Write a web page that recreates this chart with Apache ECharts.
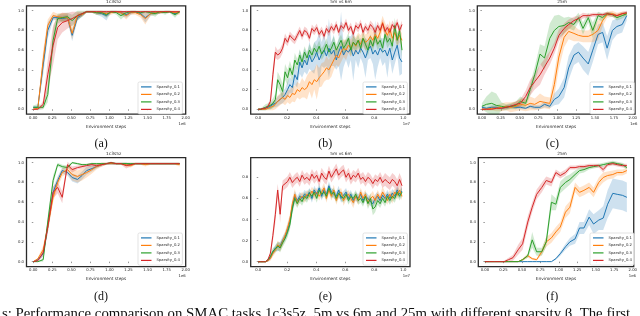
<!DOCTYPE html>
<html><head><meta charset="utf-8">
<script src="https://cdn.jsdelivr.net/npm/echarts@6/dist/echarts.min.js"></script>
<style>html,body{margin:0;padding:0;background:#fff}#c{width:640px;height:316px}</style>
</head><body><div id="c"></div>
<script>
// ---------- shared ----------
const names = ['Sparsity_0.1','Sparsity_0.2','Sparsity_0.3','Sparsity_0.4'];
const colors = ['#1f77b4','#ff7f0e','#2ca02c','#d62728'];
const ticks2 = [0,0.25,0.5,0.75,1.0,1.25,1.5,1.75,2.0];
const ticks1 = [0,0.2,0.4,0.6,0.8,1.0];
const yTicks = [0,0.2,0.4,0.6,0.8,1.0];
const yTicksE = [0,0.2,0.4,0.6,0.8];
const stepsShort = [0.00,0.06,0.13,0.19,0.26,0.32,0.38,0.45,0.51,0.58,0.64,0.70,0.77,0.83,0.90,0.96,1.02,1.09,1.15,1.22,1.28,1.34,1.41,1.47,1.54,1.60,1.66,1.73,1.79,1.86,1.92];
const stepsLong = [0,0.017,0.034,0.05,0.067,0.084,0.101,0.118,0.134,0.151,0.168,0.185,0.202,0.218,0.235,0.252,0.269,0.286,0.302,0.319,0.336,0.353,0.37,0.386,0.403,0.42,0.437,0.454,0.47,0.487,0.504,0.521,0.538,0.554,0.571,0.588,0.605,0.622,0.638,0.655,0.672,0.689,0.706,0.722,0.739,0.756,0.773,0.79,0.806,0.823,0.84,0.857,0.874,0.89,0.907,0.924,0.941,0.958,0.974,0.991];

// ---------- (a) 1c3s5z ----------
const a_s1 = [0.02,0.02,0.45,0.80,0.93,0.93,0.92,0.93,0.75,0.93,0.96,0.99,0.99,0.98,0.97,0.95,0.99,0.99,0.98,0.96,0.98,0.99,0.97,0.93,0.97,0.98,0.98,0.99,0.99,0.97,0.99];
const a_s2 = [0.00,0.01,0.50,0.85,0.95,0.94,0.93,0.93,0.77,0.95,0.96,0.99,0.99,0.98,0.98,0.97,0.98,0.99,0.98,0.95,0.98,0.98,0.96,0.92,0.97,0.98,0.98,0.99,0.99,0.98,0.98];
const a_s3 = [0.02,0.02,0.02,0.15,0.70,0.92,0.93,0.94,0.90,0.95,0.97,0.99,0.99,0.98,0.98,0.96,0.99,0.98,0.95,0.98,0.99,0.99,0.98,0.99,0.98,0.97,0.99,0.98,0.99,0.96,0.99];
const a_s4 = [0.00,0.00,0.05,0.35,0.65,0.83,0.88,0.90,0.92,0.95,0.97,0.99,0.99,0.99,0.99,0.99,0.99,0.99,0.99,0.99,0.99,0.99,0.99,0.99,0.99,0.99,0.99,0.99,0.99,0.99,0.99];
const a_e1 = [0.01,0.01,0.10,0.08,0.03,0.02,0.03,0.03,0.06,0.03,0.02,0.01,0.01,0.02,0.03,0.05,0.01,0.01,0.02,0.03,0.02,0.01,0.02,0.05,0.02,0.02,0.01,0.01,0.01,0.02,0.01];
const a_e2 = [0.01,0.01,0.10,0.06,0.04,0.03,0.05,0.04,0.06,0.03,0.02,0.01,0.01,0.02,0.02,0.03,0.02,0.01,0.02,0.04,0.02,0.02,0.03,0.06,0.02,0.02,0.01,0.01,0.01,0.02,0.02];
const a_e3 = [0.02,0.03,0.02,0.08,0.12,0.05,0.04,0.04,0.06,0.05,0.03,0.01,0.01,0.02,0.02,0.03,0.01,0.02,0.04,0.02,0.01,0.01,0.02,0.01,0.02,0.03,0.01,0.02,0.01,0.03,0.01];
const a_e4 = [0.00,0.00,0.04,0.15,0.20,0.12,0.10,0.08,0.07,0.04,0.02,0.01,0.01,0.01,0.01,0.01,0.01,0.01,0.01,0.01,0.01,0.01,0.01,0.01,0.01,0.01,0.01,0.01,0.01,0.01,0.01];

// ---------- (b) 5m vs 6m ----------
const b_s1 = [0.00,0.00,0.00,0.01,0.02,0.03,0.05,0.06,0.08,0.10,0.12,0.15,0.20,0.25,0.22,0.35,0.30,0.48,0.42,0.50,0.45,0.55,0.48,0.52,0.58,0.50,0.56,0.60,0.54,0.62,0.56,0.60,0.50,0.58,0.64,0.55,0.60,0.58,0.62,0.54,0.60,0.56,0.62,0.58,0.52,0.60,0.64,0.56,0.60,0.55,0.62,0.58,0.60,0.54,0.62,0.50,0.58,0.65,0.52,0.48];
const b_s2 = [0.00,0.00,0.00,0.00,0.01,0.02,0.03,0.05,0.08,0.10,0.12,0.10,0.14,0.12,0.16,0.15,0.20,0.18,0.22,0.20,0.22,0.28,0.25,0.30,0.28,0.32,0.35,0.38,0.42,0.40,0.45,0.50,0.55,0.52,0.58,0.62,0.60,0.65,0.62,0.68,0.64,0.70,0.66,0.72,0.68,0.70,0.74,0.70,0.76,0.72,0.78,0.88,0.80,0.75,0.82,0.72,0.78,0.70,0.75,0.70];
const b_s3 = [0.00,0.00,0.01,0.02,0.03,0.04,0.06,0.10,0.30,0.25,0.18,0.38,0.32,0.42,0.35,0.50,0.45,0.55,0.48,0.58,0.52,0.60,0.55,0.62,0.58,0.64,0.56,0.60,0.66,0.58,0.62,0.68,0.60,0.65,0.70,0.62,0.66,0.72,0.60,0.68,0.65,0.70,0.62,0.72,0.66,0.60,0.70,0.64,0.74,0.66,0.70,0.62,0.76,0.68,0.72,0.64,0.85,0.70,0.80,0.60];
const b_s4 = [0.00,0.00,0.01,0.01,0.03,0.08,0.35,0.58,0.55,0.57,0.62,0.72,0.68,0.75,0.72,0.70,0.75,0.80,0.74,0.80,0.78,0.72,0.82,0.79,0.83,0.76,0.80,0.74,0.82,0.78,0.84,0.80,0.86,0.78,0.85,0.82,0.88,0.80,0.84,0.76,0.85,0.82,0.87,0.78,0.84,0.80,0.86,0.83,0.78,0.85,0.80,0.87,0.79,0.83,0.78,0.86,0.82,0.88,0.80,0.86];
const b_e1 = [0.01,0.01,0.01,0.02,0.02,0.03,0.03,0.04,0.05,0.05,0.06,0.06,0.08,0.08,0.07,0.10,0.08,0.12,0.10,0.12,0.10,0.14,0.10,0.16,0.12,0.28,0.12,0.18,0.10,0.30,0.12,0.16,0.10,0.14,0.35,0.12,0.10,0.16,0.12,0.25,0.10,0.14,0.10,0.12,0.20,0.10,0.12,0.10,0.30,0.12,0.10,0.14,0.12,0.22,0.10,0.14,0.12,0.10,0.18,0.12];
const b_e2 = [0.01,0.01,0.01,0.01,0.02,0.03,0.04,0.05,0.06,0.06,0.06,0.06,0.07,0.07,0.08,0.08,0.08,0.08,0.10,0.08,0.12,0.10,0.14,0.10,0.18,0.10,0.12,0.10,0.12,0.10,0.12,0.10,0.10,0.09,0.10,0.09,0.10,0.08,0.09,0.08,0.09,0.08,0.09,0.08,0.08,0.08,0.09,0.08,0.08,0.08,0.08,0.07,0.08,0.07,0.08,0.07,0.07,0.07,0.07,0.07];
const b_e3 = [0.01,0.01,0.02,0.03,0.03,0.04,0.05,0.06,0.08,0.08,0.08,0.08,0.08,0.07,0.07,0.07,0.06,0.06,0.06,0.06,0.06,0.06,0.06,0.06,0.06,0.06,0.06,0.06,0.06,0.06,0.06,0.06,0.06,0.06,0.06,0.06,0.06,0.06,0.06,0.06,0.06,0.06,0.06,0.06,0.06,0.06,0.06,0.06,0.06,0.06,0.06,0.06,0.06,0.06,0.06,0.06,0.08,0.07,0.07,0.07];
const b_e4 = [0.00,0.00,0.01,0.01,0.02,0.04,0.08,0.06,0.05,0.05,0.05,0.05,0.04,0.04,0.04,0.04,0.04,0.04,0.04,0.04,0.04,0.04,0.04,0.04,0.04,0.04,0.04,0.04,0.04,0.04,0.04,0.04,0.04,0.04,0.04,0.04,0.04,0.04,0.04,0.04,0.04,0.04,0.04,0.04,0.04,0.04,0.04,0.04,0.04,0.04,0.04,0.04,0.04,0.04,0.04,0.04,0.04,0.04,0.04,0.04];

// ---------- (c) 25m ----------
const c_s1 = [0.02,0.01,0.02,0.02,0.01,0.02,0.03,0.02,0.02,0.01,0.03,0.02,0.02,0.05,0.03,0.10,0.13,0.22,0.42,0.55,0.58,0.52,0.46,0.60,0.76,0.78,0.62,0.80,0.84,0.86,0.95];
const c_s2 = [0.00,0.00,0.01,0.01,0.02,0.03,0.02,0.03,0.05,0.04,0.06,0.05,0.08,0.07,0.06,0.25,0.53,0.73,0.79,0.77,0.75,0.74,0.74,0.76,0.80,0.90,0.96,0.97,0.95,0.97,0.97];
const c_s3 = [0.03,0.05,0.06,0.04,0.03,0.02,0.03,0.04,0.08,0.06,0.20,0.35,0.56,0.52,0.72,0.80,0.84,0.85,0.88,0.86,0.93,0.82,0.93,0.80,0.95,0.93,0.97,0.96,0.93,0.95,0.97];
const c_s4 = [0.00,0.00,0.00,0.01,0.01,0.02,0.03,0.05,0.06,0.13,0.22,0.28,0.35,0.43,0.52,0.62,0.75,0.82,0.86,0.90,0.92,0.95,0.95,0.96,0.96,0.96,0.97,0.96,0.95,0.97,0.98];
const c_e1 = [0.02,0.01,0.02,0.02,0.01,0.02,0.02,0.02,0.02,0.01,0.02,0.02,0.02,0.03,0.02,0.06,0.08,0.10,0.12,0.10,0.10,0.12,0.12,0.12,0.10,0.10,0.12,0.10,0.08,0.08,0.05];
const c_e2 = [0.01,0.01,0.02,0.03,0.04,0.04,0.05,0.05,0.06,0.06,0.07,0.06,0.08,0.06,0.06,0.12,0.12,0.10,0.08,0.08,0.06,0.06,0.06,0.08,0.10,0.06,0.03,0.03,0.03,0.02,0.02];
const c_e3 = [0.03,0.08,0.12,0.12,0.04,0.03,0.03,0.04,0.05,0.04,0.06,0.08,0.10,0.12,0.15,0.15,0.12,0.08,0.06,0.06,0.05,0.06,0.05,0.08,0.04,0.04,0.02,0.02,0.03,0.03,0.02];
const c_e4 = [0.01,0.01,0.01,0.01,0.01,0.02,0.02,0.03,0.04,0.06,0.08,0.08,0.10,0.08,0.07,0.06,0.06,0.05,0.05,0.04,0.03,0.03,0.02,0.02,0.02,0.02,0.02,0.02,0.02,0.02,0.02];

// ---------- (d) 1c3s5z ----------
const d_s1 = [0.00,0.02,0.08,0.35,0.70,0.82,0.92,0.90,0.85,0.83,0.87,0.92,0.94,0.96,0.98,0.99,0.99,0.99,0.99,0.99,0.98,0.99,0.99,0.99,0.99,0.99,0.99,0.99,0.99,0.99,0.99];
const d_s2 = [0.00,0.03,0.12,0.35,0.65,0.80,0.90,0.93,0.88,0.86,0.88,0.90,0.93,0.96,0.98,0.99,0.99,0.99,0.99,0.98,0.97,0.99,0.99,0.98,0.99,0.99,0.99,0.99,0.99,0.99,0.98];
const d_s3 = [0.00,0.00,0.02,0.40,0.82,0.98,0.96,0.95,1.00,0.99,0.98,0.98,0.99,0.99,0.99,0.99,1.00,0.99,0.99,0.99,0.99,0.99,0.99,0.99,0.99,0.99,0.99,0.99,0.99,0.99,0.99];
const d_s4 = [0.00,0.01,0.09,0.35,0.70,0.75,0.65,0.98,0.93,0.95,0.96,0.97,0.98,0.97,0.98,0.99,1.00,0.99,0.99,0.97,0.98,0.99,0.99,0.99,0.99,0.99,0.99,0.99,0.99,0.99,0.99];
const d_e1 = [0.00,0.01,0.03,0.06,0.05,0.04,0.03,0.03,0.04,0.04,0.04,0.04,0.03,0.02,0.01,0.01,0.01,0.01,0.01,0.01,0.01,0.01,0.01,0.01,0.01,0.01,0.01,0.01,0.01,0.01,0.01];
const d_e2 = [0.00,0.01,0.04,0.06,0.05,0.05,0.04,0.04,0.06,0.06,0.06,0.05,0.04,0.03,0.02,0.01,0.01,0.01,0.01,0.02,0.02,0.01,0.01,0.02,0.01,0.01,0.01,0.01,0.01,0.01,0.02];
const d_e3 = [0.00,0.00,0.02,0.06,0.05,0.02,0.02,0.02,0.01,0.01,0.01,0.01,0.01,0.01,0.01,0.01,0.01,0.01,0.01,0.01,0.01,0.01,0.01,0.01,0.01,0.01,0.01,0.01,0.01,0.01,0.01];
const d_e4 = [0.00,0.01,0.03,0.06,0.06,0.06,0.06,0.03,0.03,0.02,0.02,0.02,0.02,0.02,0.02,0.01,0.01,0.01,0.01,0.03,0.02,0.01,0.01,0.01,0.01,0.01,0.01,0.01,0.01,0.01,0.01];

// ---------- (e) 5m vs 6m ----------
const e_s1 = [0.00,0.00,0.00,0.00,0.01,0.04,0.09,0.13,0.14,0.15,0.20,0.24,0.30,0.38,0.52,0.62,0.58,0.62,0.60,0.64,0.62,0.66,0.60,0.68,0.64,0.70,0.62,0.68,0.64,0.72,0.66,0.64,0.62,0.68,0.60,0.63,0.66,0.60,0.64,0.58,0.62,0.60,0.64,0.58,0.62,0.60,0.57,0.55,0.60,0.62,0.58,0.63,0.60,0.64,0.60,0.65,0.62,0.68,0.64,0.67];
const e_s2 = [0.00,0.00,0.00,0.00,0.01,0.03,0.08,0.11,0.16,0.14,0.19,0.25,0.32,0.40,0.55,0.64,0.56,0.60,0.62,0.60,0.64,0.62,0.67,0.63,0.66,0.62,0.66,0.70,0.60,0.68,0.62,0.68,0.58,0.64,0.66,0.58,0.62,0.64,0.60,0.56,0.62,0.58,0.66,0.60,0.64,0.56,0.60,0.62,0.58,0.64,0.60,0.66,0.62,0.58,0.64,0.60,0.66,0.63,0.68,0.62];
const e_s3 = [0.00,0.00,0.00,0.00,0.02,0.05,0.10,0.12,0.15,0.13,0.18,0.22,0.28,0.35,0.50,0.60,0.55,0.60,0.57,0.62,0.60,0.65,0.62,0.66,0.60,0.68,0.64,0.66,0.62,0.70,0.64,0.66,0.60,0.65,0.62,0.60,0.64,0.58,0.62,0.60,0.64,0.58,0.60,0.56,0.62,0.55,0.60,0.50,0.52,0.58,0.55,0.60,0.56,0.62,0.58,0.62,0.60,0.66,0.62,0.66];
const e_s4 = [0.00,0.00,0.00,0.00,0.02,0.08,0.25,0.45,0.68,0.45,0.72,0.74,0.76,0.80,0.75,0.78,0.80,0.76,0.82,0.78,0.80,0.77,0.83,0.79,0.82,0.76,0.84,0.80,0.78,0.86,0.80,0.84,0.88,0.82,0.85,0.87,0.80,0.84,0.78,0.82,0.80,0.84,0.78,0.80,0.76,0.80,0.78,0.74,0.78,0.76,0.80,0.75,0.78,0.76,0.74,0.78,0.76,0.72,0.78,0.72];
const e_e1 = [0.00,0.00,0.00,0.00,0.01,0.02,0.03,0.03,0.04,0.04,0.04,0.04,0.05,0.05,0.05,0.05,0.04,0.04,0.04,0.04,0.04,0.04,0.04,0.04,0.04,0.04,0.04,0.04,0.04,0.04,0.04,0.04,0.04,0.04,0.04,0.04,0.04,0.04,0.04,0.04,0.04,0.04,0.04,0.04,0.04,0.04,0.04,0.04,0.04,0.04,0.04,0.04,0.04,0.04,0.04,0.04,0.04,0.04,0.04,0.04];
const e_e2 = [0.00,0.00,0.00,0.00,0.01,0.02,0.03,0.03,0.04,0.04,0.04,0.04,0.05,0.05,0.05,0.05,0.04,0.04,0.04,0.04,0.04,0.04,0.04,0.05,0.04,0.04,0.04,0.05,0.04,0.04,0.04,0.05,0.04,0.04,0.04,0.05,0.04,0.04,0.04,0.05,0.04,0.04,0.04,0.05,0.04,0.04,0.04,0.05,0.04,0.04,0.04,0.05,0.04,0.04,0.04,0.05,0.04,0.04,0.04,0.04];
const e_e3 = [0.00,0.00,0.00,0.00,0.01,0.02,0.03,0.03,0.04,0.04,0.04,0.04,0.05,0.05,0.05,0.05,0.04,0.04,0.04,0.04,0.04,0.04,0.04,0.04,0.04,0.04,0.04,0.04,0.04,0.04,0.04,0.04,0.04,0.04,0.04,0.04,0.04,0.04,0.04,0.04,0.04,0.04,0.04,0.04,0.04,0.05,0.05,0.06,0.05,0.04,0.04,0.04,0.04,0.04,0.04,0.04,0.04,0.04,0.04,0.04];
const e_e4 = [0.00,0.00,0.00,0.00,0.01,0.03,0.06,0.08,0.06,0.08,0.05,0.05,0.05,0.05,0.05,0.05,0.05,0.05,0.05,0.05,0.05,0.05,0.05,0.05,0.05,0.05,0.05,0.05,0.05,0.05,0.05,0.05,0.05,0.05,0.05,0.05,0.05,0.05,0.05,0.05,0.05,0.05,0.05,0.05,0.05,0.05,0.05,0.05,0.05,0.05,0.05,0.05,0.06,0.06,0.06,0.06,0.06,0.06,0.06,0.06];

// ---------- (f) 25m ----------
const f_s1 = [0,0,0,0,0,0,0,0,0,0,0,0,0,0,0.00,0.03,0.08,0.15,0.20,0.23,0.34,0.34,0.45,0.38,0.42,0.44,0.58,0.69,0.68,0.67,0.65];
const f_s2 = [0,0,0,0,0,0,0,0,0.02,0.06,0.03,0.02,0.10,0.20,0.24,0.30,0.35,0.50,0.55,0.75,0.70,0.72,0.75,0.70,0.80,0.85,0.87,0.88,0.90,0.90,0.92];
const f_s3 = [0,0,0,0,0,0,0,0,0.02,0.06,0.22,0.10,0.10,0.20,0.60,0.58,0.75,0.80,0.83,0.88,0.92,0.93,0.95,0.96,0.97,0.98,0.99,1.00,0.99,0.98,0.95];
const f_s4 = [0,0,0,0,0.00,0.02,0.04,0.12,0.18,0.40,0.55,0.68,0.75,0.82,0.80,0.90,0.87,0.90,0.95,0.95,0.96,0.96,0.97,0.97,0.97,0.93,0.98,0.99,0.98,0.97,0.97];
const f_e1 = [0,0,0,0,0,0,0,0,0,0,0,0,0,0,0.00,0.01,0.02,0.03,0.04,0.05,0.06,0.06,0.08,0.10,0.10,0.12,0.14,0.15,0.15,0.15,0.15];
const f_e2 = [0,0,0,0,0,0,0,0,0.01,0.02,0.01,0.01,0.03,0.05,0.05,0.05,0.05,0.06,0.06,0.05,0.05,0.05,0.05,0.05,0.05,0.05,0.04,0.04,0.03,0.03,0.03];
const f_e3 = [0,0,0,0,0,0,0,0,0.01,0.02,0.08,0.04,0.04,0.05,0.08,0.06,0.06,0.06,0.05,0.04,0.03,0.03,0.02,0.02,0.02,0.02,0.02,0.02,0.02,0.02,0.02];
const f_e4 = [0,0,0,0,0.01,0.02,0.03,0.05,0.06,0.06,0.05,0.05,0.05,0.04,0.04,0.03,0.03,0.03,0.02,0.02,0.02,0.02,0.02,0.02,0.02,0.03,0.02,0.02,0.02,0.02,0.02];

// ---------- panels ----------
const panels = [
  {title:'1c3s5z', xs:stepsShort, m:[a_s1,a_s2,a_s3,a_s4], e:[a_e1,a_e2,a_e3,a_e4], g:{left:26.5,top:5.8,width:159.2,height:108.4}, xmin:-0.089, xmax:2.0, xt:ticks2, dec:2, ymin:-0.05, ymax:1.05, yt:yTicks, exp:'1e6', lab:'(a)', lg:[138,82]},
  {title:'5m vs 6m', xs:stepsLong, m:[b_s1,b_s2,b_s3,b_s4], e:[b_e1,b_e2,b_e3,b_e4], g:{left:250.7,top:5.8,width:159.3,height:108.4}, xmin:-0.052, xmax:1.046, xt:ticks1, dec:1, ymin:-0.05, ymax:1.05, yt:yTicks, exp:'1e7', lab:'(b)', lg:[363,82]},
  {title:'25m', xs:stepsShort, m:[c_s1,c_s2,c_s3,c_s4], e:[c_e1,c_e2,c_e3,c_e4], g:{left:477.3,top:5.8,width:160,height:108.4}, xmin:-0.061, xmax:2.03, xt:ticks2, dec:2, ymin:-0.05, ymax:1.05, yt:yTicks, exp:'1e6', lab:'(c)', lg:[590,82]},
  {title:'1c3s5z', xs:stepsShort, m:[d_s1,d_s2,d_s3,d_s4], e:[d_e1,d_e2,d_e3,d_e4], g:{left:26.5,top:157.7,width:159.2,height:108.9}, xmin:-0.089, xmax:2.0, xt:ticks2, dec:2, ymin:-0.05, ymax:1.05, yt:yTicks, exp:'1e6', lab:'(d)', lg:[138,233]},
  {title:'5m vs 6m', xs:stepsLong, m:[e_s1,e_s2,e_s3,e_s4], e:[e_e1,e_e2,e_e3,e_e4], g:{left:250.7,top:157.7,width:159.3,height:108.9}, xmin:-0.052, xmax:1.046, xt:ticks1, dec:1, ymin:-0.046, ymax:0.986, yt:yTicksE, exp:'1e7', lab:'(e)', lg:[363,233]},
  {title:'25m', xs:stepsShort, m:[f_s1,f_s2,f_s3,f_s4], e:[f_e1,f_e2,f_e3,f_e4], g:{left:478.3,top:157.7,width:157.7,height:108.9}, xmin:-0.089, xmax:2.013, xt:ticks2, dec:2, ymin:-0.05, ymax:1.05, yt:yTicks, exp:'1e6', lab:'(f)', lg:[590,233]}
];

const TXT = '#262626';
const FONT = 'DejaVu Sans';
const option = {animation:false, backgroundColor:'#fff', grid:[], xAxis:[], yAxis:[], series:[], legend:[], graphic:[]};

panels.forEach((p, gi) => {
  option.grid.push({left:p.g.left, top:p.g.top, width:p.g.width, height:p.g.height, show:true, borderColor:'#2a2a2a', borderWidth:1.3, backgroundColor:'#fff', containLabel:false});
  option.xAxis.push({type:'value', gridIndex:gi, min:p.xmin, max:p.xmax, splitLine:{show:false},
    axisLine:{show:false}, axisTick:{show:true, customValues:p.xt, length:1.5, lineStyle:{color:'#333', width:0.5}},
    axisLabel:{customValues:p.xt, formatter:v=>v.toFixed(p.dec), fontSize:3.8, color:TXT, fontFamily:FONT, margin:1.8},
    name:'Environment steps', nameLocation:'middle', nameGap:10.5, nameTextStyle:{fontSize:4.3, color:TXT, fontFamily:FONT}});
  option.yAxis.push({type:'value', gridIndex:gi, min:p.ymin, max:p.ymax, splitLine:{show:false},
    axisLine:{show:false}, axisTick:{show:true, customValues:p.yt, length:1.5, lineStyle:{color:'#333', width:0.5}},
    axisLabel:{customValues:p.yt, formatter:v=>v.toFixed(1), fontSize:3.8, color:TXT, fontFamily:FONT, margin:2.5}});
  // bands
  for (let k=0;k<4;k++){
    const xs=p.xs, mean=p.m[k], sp=p.e[k];
    const n=Math.min(xs.length, mean.length, sp.length);
    option.series.push({type:'custom', name:'band'+gi+k, xAxisIndex:gi, yAxisIndex:gi, silent:true, clip:true, z:1,
      data:[[xs[0], mean[0]]],
      renderItem:function(params, api){
        const pts=[];
        for(let i=0;i<n;i++) pts.push(api.coord([xs[i], mean[i]+sp[i]]));
        for(let i=n-1;i>=0;i--) pts.push(api.coord([xs[i], mean[i]-sp[i]]));
        return {type:'polygon', shape:{points:pts}, style:{fill:colors[k], opacity:0.22, stroke:null}};
      }});
  }
  for (let k=0;k<4;k++){
    const xs=p.xs, mean=p.m[k];
    const n=Math.min(xs.length, mean.length);
    const data=[]; for(let i=0;i<n;i++) data.push([xs[i], mean[i]]);
    option.series.push({type:'line', name:names[k], xAxisIndex:gi, yAxisIndex:gi, data, showSymbol:false, symbol:'none',
      lineStyle:{width:1, color:colors[k]}, itemStyle:{color:colors[k]}, z:3, clip:true});
  }
  option.legend.push({left:p.lg[0], top:p.lg[1], orient:'vertical', data:names.map(n=>({name:n, icon:'rect'})),
    itemWidth:10.5, itemHeight:1.2, itemGap:2.1, itemTextGap:3, padding:[2.2,2.5,2,3],
    backgroundColor:'rgba(255,255,255,0.85)', borderColor:'#d0d0d0', borderWidth:0.6, borderRadius:1.5,
    textStyle:{fontSize:3.8, color:TXT, fontFamily:FONT, lineHeight:5.4}, selectedMode:false});
  const cx = p.g.left + p.g.width/2;
  option.graphic.push({type:'text', left:cx, top:p.g.top-5.6, style:{text:p.title, font:'4.3px "DejaVu Sans"', fill:TXT, textAlign:'center'}});
  option.graphic.push({type:'text', x:p.g.left+p.g.width, y:p.g.top+p.g.height+9.5, style:{text:p.exp, font:'3.8px "DejaVu Sans"', fill:TXT, textAlign:'right', textVerticalAlign:'middle'}});
  option.graphic.push({type:'text', x:cx-5, y:p.g.top+p.g.height+30, style:{text:p.lab, font:'12px "Liberation Serif"', fill:'#111', textAlign:'center', textVerticalAlign:'middle'}});
});

option.graphic.push({type:'text', x:2, y:306.5, style:{text:'s: Performance comparison on SMAC tasks 1c3s5z, 5m vs 6m and 25m with different sparsity \u03B2. The first', font:'14.8px "Liberation Serif"', fill:'#111', textAlign:'left', textVerticalAlign:'top'}});

const chart = echarts.init(document.getElementById('c'), null, {renderer:'canvas'});
chart.setOption(option);
</script></body></html>
